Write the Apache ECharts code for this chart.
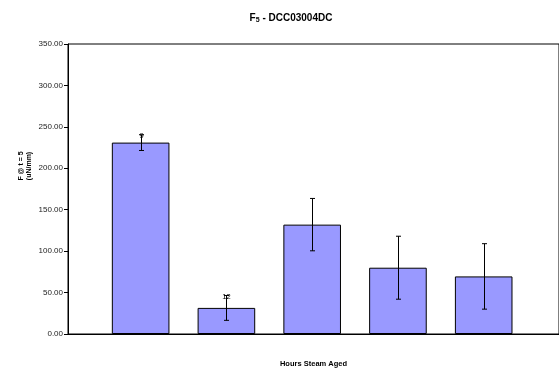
<!DOCTYPE html>
<html>
<head>
<meta charset="utf-8">
<script src="https://cdn.jsdelivr.net/npm/echarts@6/dist/echarts.min.js"></script>
<style>
  html, body { margin: 0; padding: 0; background: #fff; }
  #chart { width: 559px; height: 373px; }
</style>
</head>
<body>
<div id="chart"></div>
<script>
// Bar slots along the "Hours Steam Aged" axis (no tick labels are shown)
const slots = [0, 1, 2, 3, 4];
// Mean F @ t = 5 (uN/mm) per slot
const meanValues = [231, 31.5, 132, 80, 69.5];
// Error bar half-widths (uN/mm)
const errValues = [9.5, 15, 31.6, 38, 39.5];
// Sample counts printed at the top of some error bars
const countLabels = ['9', '12', '', '', ''];
// Y axis ticks
const yTicks = [0, 50, 100, 150, 200, 250, 300, 350];

const font = 'Arial, "Liberation Sans", sans-serif';

const chart = echarts.init(document.getElementById('chart'), null, { renderer: 'canvas' });

const option = {
  animation: false,
  backgroundColor: '#fff',
  title: {
    text: '{m|F}{s|5}{m| - DCC03004DC}',
    left: 286,
    top: 8,
    textAlign: 'center',
    textStyle: {
      rich: {
        m: { fontFamily: font, fontSize: 10, fontWeight: 'bold', color: '#000' },
        s: { fontFamily: font, fontSize: 7, fontWeight: 'bold', color: '#000', verticalAlign: 'bottom', padding: [4, 0, 0, 0] }
      }
    }
  },
  grid: {
    left: 68, right: -6, top: 44, bottom: 34,
    show: true, borderColor: '#000', borderWidth: 1, backgroundColor: 'transparent'
  },
  xAxis: {
    type: 'value',
    min: -0.847,
    max: 4.878,
    splitLine: { show: false },
    axisLabel: { show: false },
    axisTick: { show: false },
    axisLine: { show: true, onZero: false, lineStyle: { color: '#000', width: 1 } },
    name: 'Hours Steam Aged',
    nameLocation: 'middle',
    nameGap: 26,
    nameTextStyle: { fontFamily: font, fontSize: 7.5, fontWeight: 'bold', color: '#000' }
  },
  yAxis: {
    type: 'value',
    min: yTicks[0],
    max: yTicks[yTicks.length - 1],
    interval: 50,
    splitLine: { show: false },
    axisLine: { show: true, onZero: false, lineStyle: { color: '#000', width: 1 } },
    axisTick: { show: true, inside: false, length: 4, lineStyle: { color: '#000' } },
    axisLabel: {
      fontFamily: font, fontSize: 8, color: '#222', margin: 5,
      formatter: v => v.toFixed(2)
    }
  },
  graphic: [{
    type: 'text',
    x: 25,
    y: 166,
    rotation: Math.PI / 2,
    style: {
      text: 'F @ t = 5\n(uN/mm)',
      fontFamily: font, fontSize: 7, fontWeight: 'bold', fill: '#000',
      align: 'center', verticalAlign: 'middle', lineHeight: 8
    }
  }],
  series: [
    {
      type: 'bar',
      data: slots.map((s, i) => [s, meanValues[i]]),
      barWidth: 57.6,
      itemStyle: { color: '#9999FF', borderColor: '#000', borderWidth: 1 },
      z: 2
    },
    {
      type: 'custom',
      data: slots.map((s, i) => [s, meanValues[i] - errValues[i], meanValues[i] + errValues[i], i]),
      z: 5,
      renderItem: function (params, api) {
        const x = api.value(0);
        const lo = api.coord([x, api.value(1)]);
        const hi = api.coord([x, api.value(2)]);
        const cx = Math.round(lo[0]) + 0.5;
        const cap = 2.5;
        const st = { stroke: '#000', lineWidth: 1 };
        const children = [
          { type: 'line', shape: { x1: cx, y1: hi[1], x2: cx, y2: lo[1] }, style: st },
          { type: 'line', shape: { x1: cx - cap, y1: hi[1], x2: cx + cap, y2: hi[1] }, style: st },
          { type: 'line', shape: { x1: cx - cap, y1: lo[1], x2: cx + cap, y2: lo[1] }, style: st }
        ];
        const label = countLabels[api.value(3)];
        if (label) {
          children.push({
            type: 'text',
            x: cx, y: hi[1] + 1,
            style: {
              text: label, fontFamily: font, fontSize: 7.5, fill: '#000',
              align: 'center', verticalAlign: 'middle'
            }
          });
        }
        return { type: 'group', children: children };
      }
    }
  ]
};

chart.setOption(option);
</script>
</body>
</html>
